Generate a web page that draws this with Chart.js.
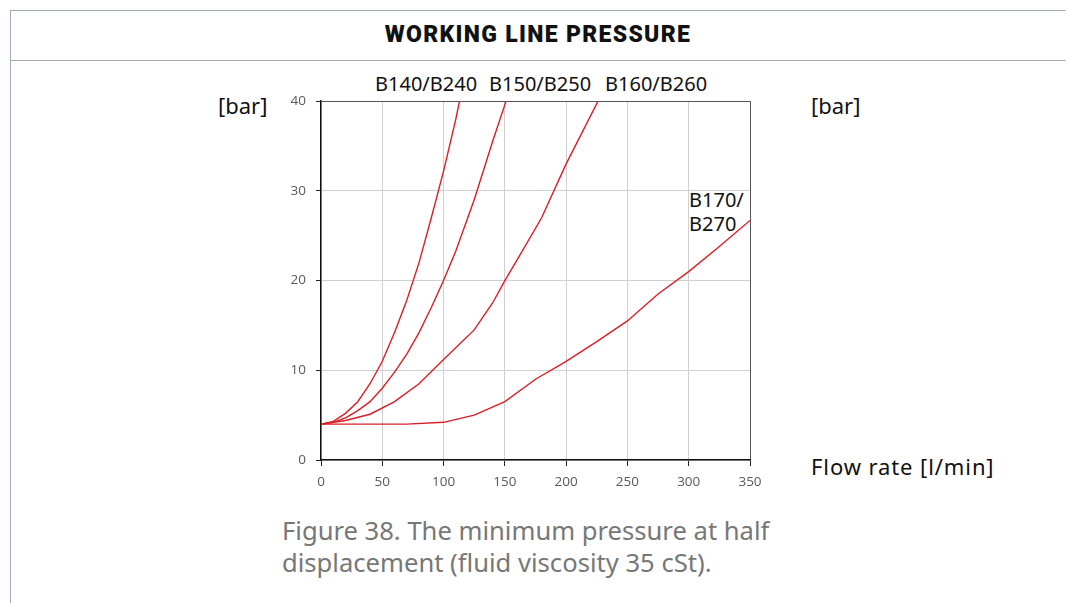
<!DOCTYPE html>
<html>
<head>
<meta charset="utf-8">
<script src="https://cdn.jsdelivr.net/npm/chart.js@4.4.1/dist/chart.umd.min.js"></script>
<style>
  body { margin: 0; background: #fff; width: 1066px; height: 603px; overflow: hidden; position: relative; font-family: "Noto Sans", sans-serif; }
  .frame { position: absolute; left: 10px; top: 10px; width: 1056px; height: 600px; border-left: 1.5px solid #a3acb9; border-top: 1.5px solid #a3acb9; }
  .head { position: absolute; left: 10px; top: 10px; width: 1056px; height: 50px; border-bottom: 1.5px solid #a3acb9; text-align: center; line-height: 50px; font-family: Roboto, sans-serif; font-weight: 900; font-size: 23px; letter-spacing: 1.3px; color: #111; }
  .lbl { position: absolute; color: #111; font-size: 20px; white-space: nowrap; line-height: 1; }
  .cap { position: absolute; left: 282px; top: 515px; color: #777; font-size: 25.6px; line-height: 32px; }
  #wrap { position: absolute; left: 270px; top: 83px; width: 500px; height: 407px; }
</style>
</head>
<body>
<div class="frame"></div>
<div class="head">WORKING LINE PRESSURE</div>

<div class="lbl" style="left:218px; top:94px; font-size:22px;">[bar]</div>
<div class="lbl" style="left:811px; top:94px; font-size:22px;">[bar]</div>
<div class="lbl" style="left:811px; top:455px; font-size:22px; letter-spacing:0.9px;">Flow rate [l/min]</div>
<div class="lbl" style="left:375px; top:74px;">B140/B240</div>
<div class="lbl" style="left:489px; top:74px;">B150/B250</div>
<div class="lbl" style="left:605px; top:74px;">B160/B260</div>
<div class="lbl" style="left:689px; top:190px;">B170/</div>
<div class="lbl" style="left:689px; top:214px;">B270</div>

<div id="wrap"><canvas id="pressureChart" width="500" height="407"></canvas></div>

<div class="cap">Figure 38. The minimum pressure at half<br>displacement (fluid viscosity 35 cSt).</div>

<script>
// flow rate [l/min] / pressure [bar]
const flowB140 = [0, 10, 20, 30, 40, 50, 60, 70, 80, 90, 100, 110, 113];
const presB140 = [4, 4.3, 5.2, 6.5, 8.5, 11, 14.2, 17.8, 22, 27, 32.2, 38, 40];

const flowB150 = [0, 10, 20, 30, 40, 50, 60, 70, 80, 90, 100, 110, 125, 140, 151];
const presB150 = [4, 4.2, 4.7, 5.5, 6.5, 8, 9.8, 11.8, 14.2, 17, 20, 23.3, 29, 35.5, 40];

const flowB160 = [0, 20, 40, 60, 80, 100, 125, 140, 150, 160, 180, 200, 226];
const presB160 = [4, 4.4, 5.1, 6.5, 8.5, 11.2, 14.5, 17.5, 20, 22.3, 27, 33, 40];

const flowB170 = [0, 70, 100, 125, 150, 175, 200, 225, 250, 275, 300, 325, 350];
const presB170 = [4, 4, 4.2, 5, 6.5, 9, 11, 13.2, 15.5, 18.5, 21, 23.8, 26.7];

const xTicks = [0, 50, 100, 150, 200, 250, 300, 350];
const yTicks = [0, 10, 20, 30, 40];

const lineRed = '#d71f26';

function toPoints(xs, ys) {
    return xs.map((x, i) => ({ x: x, y: ys[i] }));
}

const series = [
    { label: 'B140/B240', data: toPoints(flowB140, presB140) },
    { label: 'B150/B250', data: toPoints(flowB150, presB150) },
    { label: 'B160/B260', data: toPoints(flowB160, presB160) },
    { label: 'B170/B270', data: toPoints(flowB170, presB170) }
];

const ctx = document.getElementById('pressureChart').getContext('2d');
new Chart(ctx, {
    type: 'line',
    data: {
        datasets: series.map(s => ({
            label: s.label, data: s.data,
            borderColor: lineRed, backgroundColor: 'transparent',
            borderWidth: 1.4, pointRadius: 0, tension: 0
        }))
    },
    options: {
        responsive: false, animation: false, devicePixelRatio: 1,
        layout: { padding: { top: 3, right: 20, bottom: 0, left: 0 } },
        plugins: { legend: { display: false }, tooltip: { enabled: false } },
        scales: {
            x: {
                type: 'linear', min: 0, max: 350,
                afterBuildTicks: sc => { sc.ticks = xTicks.map(v => ({ value: v })); },
                afterFit: sc => { sc.height = 30; },
                grid: {
                    color: c => (c.tick && c.tick.value === 350) ? '#555' : '#d0d0d0',
                    tickColor: '#222', tickLength: 6, lineWidth: 1
                },
                border: { color: '#111', width: 1.5 },
                ticks: { color: '#595959', padding: 8, font: { family: 'Open Sans', size: 13.5 }, maxRotation: 0 }
            },
            y: {
                min: 0, max: 40,
                afterBuildTicks: sc => { sc.ticks = yTicks.map(v => ({ value: v })); },
                afterFit: sc => { sc.width = 51; },
                grid: {
                    color: c => (c.tick && c.tick.value === 40) ? '#555' : '#d0d0d0',
                    tickColor: '#222', tickLength: 5, lineWidth: 1
                },
                border: { color: '#111', width: 1.5 },
                ticks: { color: '#595959', padding: 10, font: { family: 'Open Sans', size: 13.5 } }
            }
        }
    }
});
</script>
</body>
</html>
